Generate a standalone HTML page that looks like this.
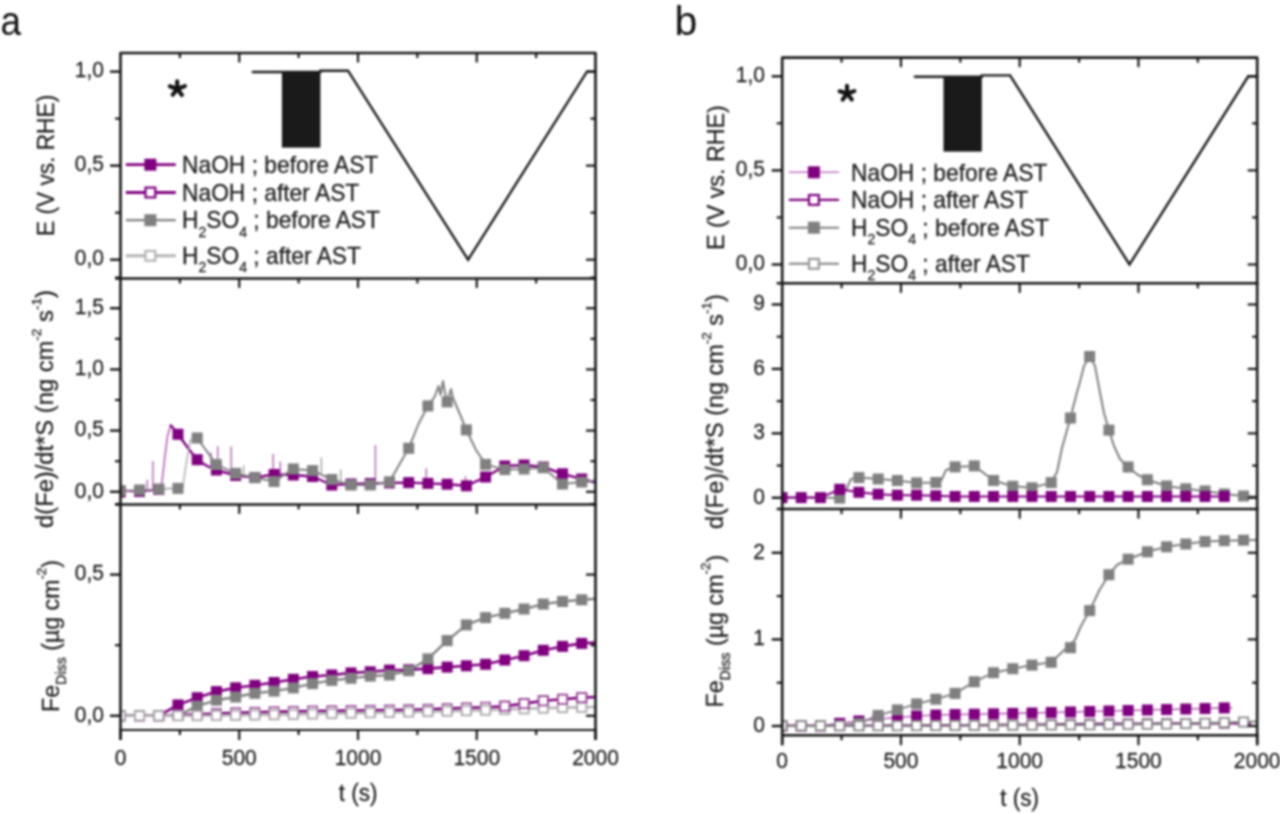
<!DOCTYPE html><html><head><meta charset="utf-8"><title>Fe dissolution</title>
<style>html,body{margin:0;padding:0;background:#fff;}svg{display:block;filter:blur(0.8px);}text{font-family:"Liberation Sans", sans-serif;stroke:#1c1c1c;stroke-width:0.25px;}</style></head><body>
<svg width="1280" height="814" viewBox="0 0 1280 814">
<rect width="1280" height="814" fill="#fff"/>
<defs>
<clipPath id="cA2"><rect x="120.5" y="278.4" width="475" height="226"/></clipPath>
<clipPath id="cA3"><rect x="120.5" y="504.4" width="475" height="225.6"/></clipPath>
<clipPath id="cB2"><rect x="782.2" y="283.3" width="475" height="225.8"/></clipPath>
<clipPath id="cB3"><rect x="782.2" y="509.1" width="475" height="226.1"/></clipPath>
</defs>
<text transform="translate(0.6,35.3) scale(0.9,1)" x="0" y="0" font-size="41" fill="#111" style="stroke:none">a</text>
<text x="674.5" y="35.3" font-size="41" text-anchor="start" fill="#111" style="stroke:none">b</text>
<rect x="281.9" y="71.6" width="38.5" height="76" fill="#1a1a1a"/>
<polyline points="252.8,72 320.4,72 320.4,70.7 348,70.7 468.1,259.7 587,71.6 595.5,71.6" fill="none" stroke="#1c1c1c" stroke-width="2.4" stroke-linejoin="miter" stroke-linecap="round" />
<rect x="943.5" y="76.3" width="38.3" height="75.3" fill="#1a1a1a"/>
<polyline points="914.9,76.7 981.8,76.7 981.8,75.4 1010.1,75.4 1129.5,264.5 1248.3,76.3 1257.2,76.3" fill="none" stroke="#1c1c1c" stroke-width="2.4" stroke-linejoin="miter" stroke-linecap="round" />
<line x1="177.3" y1="89" x2="177.2" y2="81.2" stroke="#111" stroke-width="4.1" stroke-linecap="round"/>
<line x1="177.3" y1="89" x2="169.8" y2="86.3" stroke="#111" stroke-width="4.1" stroke-linecap="round"/>
<line x1="177.3" y1="89" x2="184.9" y2="86.1" stroke="#111" stroke-width="4.1" stroke-linecap="round"/>
<line x1="177.3" y1="89" x2="172.7" y2="94.7" stroke="#111" stroke-width="4.1" stroke-linecap="round"/>
<line x1="177.3" y1="89" x2="181.9" y2="94.9" stroke="#111" stroke-width="4.1" stroke-linecap="round"/>
<line x1="847.2" y1="93.5" x2="847" y2="85.7" stroke="#111" stroke-width="4.1" stroke-linecap="round"/>
<line x1="847.2" y1="93.5" x2="839.6" y2="91.3" stroke="#111" stroke-width="4.1" stroke-linecap="round"/>
<line x1="847.2" y1="93.5" x2="854.3" y2="91.1" stroke="#111" stroke-width="4.1" stroke-linecap="round"/>
<line x1="847.2" y1="93.5" x2="842.7" y2="99.5" stroke="#111" stroke-width="4.1" stroke-linecap="round"/>
<line x1="847.2" y1="93.5" x2="851.8" y2="99.4" stroke="#111" stroke-width="4.1" stroke-linecap="round"/>
<line x1="125.8" y1="164.7" x2="175.8" y2="164.7" stroke="#800080" stroke-width="2.8" stroke-linecap="butt"/>
<rect x="144.4" y="158.7" width="12" height="12" fill="#800080"/>
<text transform="translate(182,172.9) scale(0.9661,1)" x="0" y="0" font-size="23.6" fill="#1c1c1c">NaOH ; before AST</text>
<line x1="125.8" y1="192.5" x2="175.8" y2="192.5" stroke="#800080" stroke-width="2.8" stroke-linecap="butt"/>
<rect x="145.5" y="187.6" width="9.8" height="9.8" fill="#fff" stroke="#800080" stroke-width="2.2"/>
<text transform="translate(182,200.7) scale(0.9661,1)" x="0" y="0" font-size="23.6" fill="#1c1c1c">NaOH ; after AST</text>
<line x1="125.8" y1="220.2" x2="175.8" y2="220.2" stroke="#808080" stroke-width="2.2" stroke-linecap="butt"/>
<rect x="144.4" y="214.2" width="12" height="12" fill="#808080"/>
<text transform="translate(182,228.4) scale(0.9661,1)" x="0" y="0" font-size="23.6" fill="#1c1c1c">H<tspan font-size="14.5" dy="8.3">2</tspan><tspan dy="-8.3">SO</tspan><tspan font-size="14.5" dy="8.3">4</tspan><tspan dy="-8.3"> ; before AST</tspan></text>
<line x1="125.8" y1="255.8" x2="175.8" y2="255.8" stroke="#b4b4b4" stroke-width="3.0" stroke-linecap="butt"/>
<rect x="145.5" y="250.9" width="9.8" height="9.8" fill="#fff" stroke="#b4b4b4" stroke-width="2.2"/>
<text transform="translate(182,264) scale(0.9661,1)" x="0" y="0" font-size="23.6" fill="#1c1c1c">H<tspan font-size="14.5" dy="8.3">2</tspan><tspan dy="-8.3">SO</tspan><tspan font-size="14.5" dy="8.3">4</tspan><tspan dy="-8.3"> ; after AST</tspan></text>
<line x1="788.8" y1="172.3" x2="839" y2="172.3" stroke="#c070c0" stroke-width="1.6" stroke-linecap="butt"/>
<rect x="807.9" y="166.3" width="12" height="12" fill="#800080"/>
<text transform="translate(851,180.5) scale(0.9661,1)" x="0" y="0" font-size="23.6" fill="#1c1c1c">NaOH ; before AST</text>
<line x1="788.8" y1="199.9" x2="839" y2="199.9" stroke="#800080" stroke-width="2.2" stroke-linecap="butt"/>
<rect x="809" y="195" width="9.8" height="9.8" fill="#fff" stroke="#800080" stroke-width="2.2"/>
<text transform="translate(851,208.1) scale(0.9661,1)" x="0" y="0" font-size="23.6" fill="#1c1c1c">NaOH ; after AST</text>
<line x1="788.8" y1="227.7" x2="839" y2="227.7" stroke="#808080" stroke-width="2.0" stroke-linecap="butt"/>
<rect x="807.9" y="221.7" width="12" height="12" fill="#808080"/>
<text transform="translate(851,235.9) scale(0.9661,1)" x="0" y="0" font-size="23.6" fill="#1c1c1c">H<tspan font-size="14.5" dy="8.3">2</tspan><tspan dy="-8.3">SO</tspan><tspan font-size="14.5" dy="8.3">4</tspan><tspan dy="-8.3"> ; before AST</tspan></text>
<line x1="788.8" y1="263.8" x2="839" y2="263.8" stroke="#808080" stroke-width="2.0" stroke-linecap="butt"/>
<rect x="809" y="258.9" width="9.8" height="9.8" fill="#fff" stroke="#999" stroke-width="2.2"/>
<text transform="translate(851,272) scale(0.9661,1)" x="0" y="0" font-size="23.6" fill="#1c1c1c">H<tspan font-size="14.5" dy="8.3">2</tspan><tspan dy="-8.3">SO</tspan><tspan font-size="14.5" dy="8.3">4</tspan><tspan dy="-8.3"> ; after AST</tspan></text>
<g clip-path="url(#cA2)">
<polyline points="120.5,490.5 139.53,491.5 159,489.5 161.3,488" fill="none" stroke="#800080" stroke-width="2.2" stroke-linejoin="round" stroke-linecap="round" />
<polyline points="161.3,488 164.5,460 167.5,436 170.7,425.4" fill="none" stroke="#b050b0" stroke-width="1.5" stroke-linejoin="round" stroke-linecap="round" />
<polyline points="170.7,425.4 173.5,428.5 177.98,434.3 188,448 197.2,459.7 207,466 216.43,470 235.66,475.5 254.88,477.5 274.11,474.5 293.33,475 312.56,476.5 331.79,485 351.01,484 370.24,483.5 389.46,482.9 408.69,482.6 427.92,483.4 447.14,484.2 466.37,485.8 485.59,477 504.82,466 524.05,465 543.27,467 562.5,473.8 581.72,479 595.5,482.5" fill="none" stroke="#800080" stroke-width="2.4" stroke-linejoin="round" stroke-linecap="round" />
<line x1="147.2" y1="490.71" x2="147.2" y2="479.8" stroke="#b060b0" stroke-width="1.4" stroke-linecap="butt"/>
<line x1="152.9" y1="490.13" x2="152.9" y2="461" stroke="#b060b0" stroke-width="1.4" stroke-linecap="butt"/>
<line x1="210.9" y1="467.65" x2="210.9" y2="452.6" stroke="#b060b0" stroke-width="1.4" stroke-linecap="butt"/>
<line x1="217.7" y1="470.36" x2="217.7" y2="446.3" stroke="#b060b0" stroke-width="1.4" stroke-linecap="butt"/>
<line x1="231.2" y1="474.23" x2="231.2" y2="446.5" stroke="#b060b0" stroke-width="1.4" stroke-linecap="butt"/>
<line x1="273.2" y1="474.64" x2="273.2" y2="453.9" stroke="#b060b0" stroke-width="1.4" stroke-linecap="butt"/>
<line x1="280.3" y1="474.66" x2="280.3" y2="461.5" stroke="#b060b0" stroke-width="1.4" stroke-linecap="butt"/>
<line x1="375.4" y1="483.34" x2="375.4" y2="445" stroke="#b060b0" stroke-width="1.4" stroke-linecap="butt"/>
<line x1="426.3" y1="483.33" x2="426.3" y2="468.2" stroke="#b060b0" stroke-width="1.4" stroke-linecap="butt"/>
<line x1="465.5" y1="485.73" x2="465.5" y2="476.2" stroke="#b060b0" stroke-width="1.4" stroke-linecap="butt"/>
<polyline points="120.5,490.6 139.53,490 158.75,489 177.98,488.4 182.7,487.5" fill="none" stroke="#a0a0a0" stroke-width="1.6" stroke-linejoin="round" stroke-linecap="round" />
<polyline points="182.7,487.5 186.5,462 190.5,440 197.2,438" fill="none" stroke="#a8a8a8" stroke-width="1.4" stroke-linejoin="round" stroke-linecap="round" />
<polyline points="197.2,438 216.43,464.6 235.66,473.4 254.88,477.7 274.11,481.5 293.33,468.9 312.56,470.6 331.79,479.5 351.01,485 370.24,484.9 389.46,481.8 408.69,448.3 418.5,424 427.92,405.9 434.5,397 438.5,386 440.5,395 443,381 445,393 447.14,401.9 451,389 453,398 459,412 466.37,429.9 476,450 485.59,464.4 504.82,469.6 524.05,469 543.27,467.7 562.5,484 581.72,482 595.5,480.5" fill="none" stroke="#808080" stroke-width="2.0" stroke-linejoin="round" stroke-linecap="round" />
<line x1="243.7" y1="475.2" x2="243.7" y2="465.5" stroke="#a0a0a0" stroke-width="1.4" stroke-linecap="butt"/>
<line x1="321.4" y1="474.69" x2="321.4" y2="457.4" stroke="#a0a0a0" stroke-width="1.4" stroke-linecap="butt"/>
<line x1="340.7" y1="482.05" x2="340.7" y2="469.6" stroke="#a0a0a0" stroke-width="1.4" stroke-linecap="butt"/>
<rect x="114.8" y="486.5" width="11" height="11" fill="#800080"/>
<rect x="134.03" y="486" width="11" height="11" fill="#800080"/>
<rect x="153.25" y="484" width="11" height="11" fill="#800080"/>
<rect x="172.48" y="428.8" width="11" height="11" fill="#800080"/>
<rect x="191.7" y="454.2" width="11" height="11" fill="#800080"/>
<rect x="210.93" y="464.5" width="11" height="11" fill="#800080"/>
<rect x="230.16" y="470" width="11" height="11" fill="#800080"/>
<rect x="249.38" y="472" width="11" height="11" fill="#800080"/>
<rect x="268.61" y="469" width="11" height="11" fill="#800080"/>
<rect x="287.83" y="469.5" width="11" height="11" fill="#800080"/>
<rect x="307.06" y="471" width="11" height="11" fill="#800080"/>
<rect x="326.29" y="479.5" width="11" height="11" fill="#800080"/>
<rect x="345.51" y="478.5" width="11" height="11" fill="#800080"/>
<rect x="364.74" y="478" width="11" height="11" fill="#800080"/>
<rect x="383.96" y="477.4" width="11" height="11" fill="#800080"/>
<rect x="403.19" y="477.1" width="11" height="11" fill="#800080"/>
<rect x="422.42" y="477.9" width="11" height="11" fill="#800080"/>
<rect x="441.64" y="478.7" width="11" height="11" fill="#800080"/>
<rect x="460.87" y="480.3" width="11" height="11" fill="#800080"/>
<rect x="480.09" y="471.5" width="11" height="11" fill="#800080"/>
<rect x="499.32" y="460.5" width="11" height="11" fill="#800080"/>
<rect x="518.55" y="459.5" width="11" height="11" fill="#800080"/>
<rect x="537.77" y="461.5" width="11" height="11" fill="#800080"/>
<rect x="557" y="468.3" width="11" height="11" fill="#800080"/>
<rect x="576.22" y="473.5" width="11" height="11" fill="#800080"/>
<rect x="114.8" y="485.1" width="11" height="11" fill="#808080"/>
<rect x="134.03" y="484.5" width="11" height="11" fill="#808080"/>
<rect x="153.25" y="483.5" width="11" height="11" fill="#808080"/>
<rect x="172.48" y="482.9" width="11" height="11" fill="#808080"/>
<rect x="191.7" y="432.5" width="11" height="11" fill="#808080"/>
<rect x="210.93" y="459.1" width="11" height="11" fill="#808080"/>
<rect x="230.16" y="467.9" width="11" height="11" fill="#808080"/>
<rect x="249.38" y="472.2" width="11" height="11" fill="#808080"/>
<rect x="268.61" y="476" width="11" height="11" fill="#808080"/>
<rect x="287.83" y="463.4" width="11" height="11" fill="#808080"/>
<rect x="307.06" y="465.1" width="11" height="11" fill="#808080"/>
<rect x="326.29" y="474" width="11" height="11" fill="#808080"/>
<rect x="345.51" y="479.5" width="11" height="11" fill="#808080"/>
<rect x="364.74" y="479.4" width="11" height="11" fill="#808080"/>
<rect x="383.96" y="476.3" width="11" height="11" fill="#808080"/>
<rect x="403.19" y="442.8" width="11" height="11" fill="#808080"/>
<rect x="422.42" y="400.4" width="11" height="11" fill="#808080"/>
<rect x="441.64" y="396.4" width="11" height="11" fill="#808080"/>
<rect x="460.87" y="424.4" width="11" height="11" fill="#808080"/>
<rect x="480.09" y="458.9" width="11" height="11" fill="#808080"/>
<rect x="499.32" y="464.1" width="11" height="11" fill="#808080"/>
<rect x="518.55" y="463.5" width="11" height="11" fill="#808080"/>
<rect x="537.77" y="462.2" width="11" height="11" fill="#808080"/>
<rect x="557" y="478.5" width="11" height="11" fill="#808080"/>
<rect x="576.22" y="476.5" width="11" height="11" fill="#808080"/>
</g>
<g clip-path="url(#cA3)">
<polyline points="120.3,715.8 139.53,715.8 158.75,715.8 177.98,704.9 197.2,697.7 216.43,691.6 235.66,687.8 254.88,685.3 274.11,682.5 293.33,679.3 312.56,676.5 331.79,675 351.01,672.9 370.24,671.8 389.46,670.1 408.69,669.7 427.92,668.6 447.14,667.1 466.37,665.8 485.59,664.3 504.82,660 524.05,655.7 543.27,650.3 562.5,646.4 581.72,643.4 595.5,642.5" fill="none" stroke="#800080" stroke-width="2.6" stroke-linejoin="round" stroke-linecap="round" />
<polyline points="120.5,715.7 120.3,715.6 139.53,715.6 158.75,715.5 177.98,715 197.2,714.2 216.43,713.5 235.66,712.8 254.88,712.3 274.11,711.8 293.33,711.4 312.56,711 331.79,710.8 351.01,710.5 370.24,710.3 389.46,710 408.69,709.7 427.92,709.3 447.14,708.6 466.37,707.8 485.59,707.2 504.82,706.2 524.05,703.6 543.27,700.8 562.5,699.3 581.72,697.6 595.5,697" fill="none" stroke="#800080" stroke-width="2.6" stroke-linejoin="round" stroke-linecap="round" />
<polyline points="120.3,715.8 139.53,715.8 158.75,715.8 177.98,715.5 197.2,706.1 216.43,700.2 235.66,697 254.88,693.3 274.11,691.1 293.33,687.9 312.56,683.6 331.79,680.4 351.01,678.3 370.24,676.1 389.46,675 408.69,670.7 427.92,658.9 447.14,640.6 466.37,624.9 485.59,617.6 504.82,613.3 524.05,609 543.27,604.1 562.5,601.5 581.72,599.8 595.5,598.7" fill="none" stroke="#808080" stroke-width="2.4" stroke-linejoin="round" stroke-linecap="round" />
<polyline points="120.5,715.8 120.3,715.8 139.53,715.8 158.75,715.8 177.98,715.8 197.2,715.7 216.43,715.5 235.66,715.3 254.88,715 274.11,714.7 293.33,714.4 312.56,714 331.79,713.6 351.01,713.2 370.24,712.8 389.46,712.4 408.69,712 427.92,711.6 447.14,711.2 466.37,710.7 485.59,710.2 504.82,709.4 524.05,708.8 543.27,708.2 562.5,707.6 581.72,707.3 595.5,707" fill="none" stroke="#b4b4b4" stroke-width="2.6" stroke-linejoin="round" stroke-linecap="round" />
<rect x="114.8" y="710.3" width="11" height="11" fill="#800080"/>
<rect x="134.03" y="710.3" width="11" height="11" fill="#800080"/>
<rect x="153.25" y="710.3" width="11" height="11" fill="#800080"/>
<rect x="172.48" y="699.4" width="11" height="11" fill="#800080"/>
<rect x="191.7" y="692.2" width="11" height="11" fill="#800080"/>
<rect x="210.93" y="686.1" width="11" height="11" fill="#800080"/>
<rect x="230.16" y="682.3" width="11" height="11" fill="#800080"/>
<rect x="249.38" y="679.8" width="11" height="11" fill="#800080"/>
<rect x="268.61" y="677" width="11" height="11" fill="#800080"/>
<rect x="287.83" y="673.8" width="11" height="11" fill="#800080"/>
<rect x="307.06" y="671" width="11" height="11" fill="#800080"/>
<rect x="326.29" y="669.5" width="11" height="11" fill="#800080"/>
<rect x="345.51" y="667.4" width="11" height="11" fill="#800080"/>
<rect x="364.74" y="666.3" width="11" height="11" fill="#800080"/>
<rect x="383.96" y="664.6" width="11" height="11" fill="#800080"/>
<rect x="403.19" y="664.2" width="11" height="11" fill="#800080"/>
<rect x="422.42" y="663.1" width="11" height="11" fill="#800080"/>
<rect x="441.64" y="661.6" width="11" height="11" fill="#800080"/>
<rect x="460.87" y="660.3" width="11" height="11" fill="#800080"/>
<rect x="480.09" y="658.8" width="11" height="11" fill="#800080"/>
<rect x="499.32" y="654.5" width="11" height="11" fill="#800080"/>
<rect x="518.55" y="650.2" width="11" height="11" fill="#800080"/>
<rect x="537.77" y="644.8" width="11" height="11" fill="#800080"/>
<rect x="557" y="640.9" width="11" height="11" fill="#800080"/>
<rect x="576.22" y="637.9" width="11" height="11" fill="#800080"/>
<rect x="115.7" y="711" width="9.2" height="9.2" fill="#fff" stroke="#a05aa0" stroke-width="1.8"/>
<rect x="134.93" y="711" width="9.2" height="9.2" fill="#fff" stroke="#a05aa0" stroke-width="1.8"/>
<rect x="154.15" y="710.9" width="9.2" height="9.2" fill="#fff" stroke="#a05aa0" stroke-width="1.8"/>
<rect x="173.38" y="710.4" width="9.2" height="9.2" fill="#fff" stroke="#a05aa0" stroke-width="1.8"/>
<rect x="192.6" y="709.6" width="9.2" height="9.2" fill="#fff" stroke="#a05aa0" stroke-width="1.8"/>
<rect x="211.83" y="708.9" width="9.2" height="9.2" fill="#fff" stroke="#a05aa0" stroke-width="1.8"/>
<rect x="231.06" y="708.2" width="9.2" height="9.2" fill="#fff" stroke="#a05aa0" stroke-width="1.8"/>
<rect x="250.28" y="707.7" width="9.2" height="9.2" fill="#fff" stroke="#a05aa0" stroke-width="1.8"/>
<rect x="269.51" y="707.2" width="9.2" height="9.2" fill="#fff" stroke="#a05aa0" stroke-width="1.8"/>
<rect x="288.73" y="706.8" width="9.2" height="9.2" fill="#fff" stroke="#a05aa0" stroke-width="1.8"/>
<rect x="307.96" y="706.4" width="9.2" height="9.2" fill="#fff" stroke="#a05aa0" stroke-width="1.8"/>
<rect x="327.19" y="706.2" width="9.2" height="9.2" fill="#fff" stroke="#a05aa0" stroke-width="1.8"/>
<rect x="346.41" y="705.9" width="9.2" height="9.2" fill="#fff" stroke="#a05aa0" stroke-width="1.8"/>
<rect x="365.64" y="705.7" width="9.2" height="9.2" fill="#fff" stroke="#a05aa0" stroke-width="1.8"/>
<rect x="384.86" y="705.4" width="9.2" height="9.2" fill="#fff" stroke="#a05aa0" stroke-width="1.8"/>
<rect x="404.09" y="705.1" width="9.2" height="9.2" fill="#fff" stroke="#a05aa0" stroke-width="1.8"/>
<rect x="423.32" y="704.7" width="9.2" height="9.2" fill="#fff" stroke="#a05aa0" stroke-width="1.8"/>
<rect x="442.54" y="704" width="9.2" height="9.2" fill="#fff" stroke="#a05aa0" stroke-width="1.8"/>
<rect x="461.77" y="703.2" width="9.2" height="9.2" fill="#fff" stroke="#a05aa0" stroke-width="1.8"/>
<rect x="480.99" y="702.6" width="9.2" height="9.2" fill="#fff" stroke="#a05aa0" stroke-width="1.8"/>
<rect x="500.22" y="701.6" width="9.2" height="9.2" fill="#fff" stroke="#a05aa0" stroke-width="1.8"/>
<rect x="519.45" y="699" width="9.2" height="9.2" fill="#fff" stroke="#a05aa0" stroke-width="1.8"/>
<rect x="538.67" y="696.2" width="9.2" height="9.2" fill="#fff" stroke="#a05aa0" stroke-width="1.8"/>
<rect x="557.9" y="694.7" width="9.2" height="9.2" fill="#fff" stroke="#a05aa0" stroke-width="1.8"/>
<rect x="577.12" y="693" width="9.2" height="9.2" fill="#fff" stroke="#a05aa0" stroke-width="1.8"/>
<rect x="114.8" y="710.3" width="11" height="11" fill="#808080"/>
<rect x="134.03" y="710.3" width="11" height="11" fill="#808080"/>
<rect x="153.25" y="710.3" width="11" height="11" fill="#808080"/>
<rect x="172.48" y="710" width="11" height="11" fill="#808080"/>
<rect x="191.7" y="700.6" width="11" height="11" fill="#808080"/>
<rect x="210.93" y="694.7" width="11" height="11" fill="#808080"/>
<rect x="230.16" y="691.5" width="11" height="11" fill="#808080"/>
<rect x="249.38" y="687.8" width="11" height="11" fill="#808080"/>
<rect x="268.61" y="685.6" width="11" height="11" fill="#808080"/>
<rect x="287.83" y="682.4" width="11" height="11" fill="#808080"/>
<rect x="307.06" y="678.1" width="11" height="11" fill="#808080"/>
<rect x="326.29" y="674.9" width="11" height="11" fill="#808080"/>
<rect x="345.51" y="672.8" width="11" height="11" fill="#808080"/>
<rect x="364.74" y="670.6" width="11" height="11" fill="#808080"/>
<rect x="383.96" y="669.5" width="11" height="11" fill="#808080"/>
<rect x="403.19" y="665.2" width="11" height="11" fill="#808080"/>
<rect x="422.42" y="653.4" width="11" height="11" fill="#808080"/>
<rect x="441.64" y="635.1" width="11" height="11" fill="#808080"/>
<rect x="460.87" y="619.4" width="11" height="11" fill="#808080"/>
<rect x="480.09" y="612.1" width="11" height="11" fill="#808080"/>
<rect x="499.32" y="607.8" width="11" height="11" fill="#808080"/>
<rect x="518.55" y="603.5" width="11" height="11" fill="#808080"/>
<rect x="537.77" y="598.6" width="11" height="11" fill="#808080"/>
<rect x="557" y="596" width="11" height="11" fill="#808080"/>
<rect x="576.22" y="594.3" width="11" height="11" fill="#808080"/>
<rect x="115.7" y="711.2" width="9.2" height="9.2" fill="#fff" stroke="#aca6ac" stroke-width="1.8"/>
<rect x="134.93" y="711.2" width="9.2" height="9.2" fill="#fff" stroke="#aca6ac" stroke-width="1.8"/>
<rect x="154.15" y="711.2" width="9.2" height="9.2" fill="#fff" stroke="#aca6ac" stroke-width="1.8"/>
<rect x="173.38" y="711.2" width="9.2" height="9.2" fill="#fff" stroke="#aca6ac" stroke-width="1.8"/>
<rect x="192.6" y="711.1" width="9.2" height="9.2" fill="#fff" stroke="#aca6ac" stroke-width="1.8"/>
<rect x="211.83" y="710.9" width="9.2" height="9.2" fill="#fff" stroke="#aca6ac" stroke-width="1.8"/>
<rect x="231.06" y="710.7" width="9.2" height="9.2" fill="#fff" stroke="#aca6ac" stroke-width="1.8"/>
<rect x="250.28" y="710.4" width="9.2" height="9.2" fill="#fff" stroke="#aca6ac" stroke-width="1.8"/>
<rect x="269.51" y="710.1" width="9.2" height="9.2" fill="#fff" stroke="#aca6ac" stroke-width="1.8"/>
<rect x="288.73" y="709.8" width="9.2" height="9.2" fill="#fff" stroke="#aca6ac" stroke-width="1.8"/>
<rect x="307.96" y="709.4" width="9.2" height="9.2" fill="#fff" stroke="#aca6ac" stroke-width="1.8"/>
<rect x="327.19" y="709" width="9.2" height="9.2" fill="#fff" stroke="#aca6ac" stroke-width="1.8"/>
<rect x="346.41" y="708.6" width="9.2" height="9.2" fill="#fff" stroke="#aca6ac" stroke-width="1.8"/>
<rect x="365.64" y="708.2" width="9.2" height="9.2" fill="#fff" stroke="#aca6ac" stroke-width="1.8"/>
<rect x="384.86" y="707.8" width="9.2" height="9.2" fill="#fff" stroke="#aca6ac" stroke-width="1.8"/>
<rect x="404.09" y="707.4" width="9.2" height="9.2" fill="#fff" stroke="#aca6ac" stroke-width="1.8"/>
<rect x="423.32" y="707" width="9.2" height="9.2" fill="#fff" stroke="#aca6ac" stroke-width="1.8"/>
<rect x="442.54" y="706.6" width="9.2" height="9.2" fill="#fff" stroke="#aca6ac" stroke-width="1.8"/>
<rect x="461.77" y="706.1" width="9.2" height="9.2" fill="#fff" stroke="#aca6ac" stroke-width="1.8"/>
<rect x="480.99" y="705.6" width="9.2" height="9.2" fill="#fff" stroke="#aca6ac" stroke-width="1.8"/>
<rect x="500.22" y="704.8" width="9.2" height="9.2" fill="#fff" stroke="#aca6ac" stroke-width="1.8"/>
<rect x="519.45" y="704.2" width="9.2" height="9.2" fill="#fff" stroke="#aca6ac" stroke-width="1.8"/>
<rect x="538.67" y="703.6" width="9.2" height="9.2" fill="#fff" stroke="#aca6ac" stroke-width="1.8"/>
<rect x="557.9" y="703" width="9.2" height="9.2" fill="#fff" stroke="#aca6ac" stroke-width="1.8"/>
<rect x="577.12" y="702.7" width="9.2" height="9.2" fill="#fff" stroke="#aca6ac" stroke-width="1.8"/>
<rect x="500.22" y="701.6" width="9.2" height="9.2" fill="#fff" stroke="#9a4a9a" stroke-width="1.8"/>
<rect x="519.45" y="699" width="9.2" height="9.2" fill="#fff" stroke="#9a4a9a" stroke-width="1.8"/>
<rect x="538.67" y="696.2" width="9.2" height="9.2" fill="#fff" stroke="#9a4a9a" stroke-width="1.8"/>
<rect x="557.9" y="694.7" width="9.2" height="9.2" fill="#fff" stroke="#9a4a9a" stroke-width="1.8"/>
<rect x="577.12" y="693" width="9.2" height="9.2" fill="#fff" stroke="#9a4a9a" stroke-width="1.8"/>
</g>
<g clip-path="url(#cB2)">
<polyline points="782,497.6 782.2,497.7 801.23,497.6 820.46,497.8 839.69,498.1 846,490 851,479 858.92,477.6 878.15,479 897.38,480.5 916.61,482.9 935.84,482.5 941.5,480 946,470 955.07,466.9 974.3,465.9 993.53,480.5 1012.76,486.3 1031.99,487.8 1051.22,482.6 1057,472 1062,448 1070.45,418 1076,396 1080.6,379.6 1084,366 1089.68,356.5 1095,366 1099.5,390 1104,413 1108.91,430.1 1114,446 1120,459 1128.14,467 1138,475 1147.37,479.7 1166.6,486 1185.83,488.8 1205.06,491 1224.29,494 1243.52,496 1257.2,496.5" fill="none" stroke="#808080" stroke-width="2.0" stroke-linejoin="round" stroke-linecap="round" />
<rect x="834.19" y="492.6" width="11" height="11" fill="#808080"/>
<rect x="853.42" y="472.1" width="11" height="11" fill="#808080"/>
<rect x="872.65" y="473.5" width="11" height="11" fill="#808080"/>
<rect x="891.88" y="475" width="11" height="11" fill="#808080"/>
<rect x="911.11" y="477.4" width="11" height="11" fill="#808080"/>
<rect x="930.34" y="477" width="11" height="11" fill="#808080"/>
<rect x="949.57" y="461.4" width="11" height="11" fill="#808080"/>
<rect x="968.8" y="460.4" width="11" height="11" fill="#808080"/>
<rect x="988.03" y="475" width="11" height="11" fill="#808080"/>
<rect x="1007.26" y="480.8" width="11" height="11" fill="#808080"/>
<rect x="1026.49" y="482.3" width="11" height="11" fill="#808080"/>
<rect x="1045.72" y="477.1" width="11" height="11" fill="#808080"/>
<rect x="1064.95" y="412.5" width="11" height="11" fill="#808080"/>
<rect x="1084.18" y="351" width="11" height="11" fill="#808080"/>
<rect x="1103.41" y="424.6" width="11" height="11" fill="#808080"/>
<rect x="1122.64" y="461.5" width="11" height="11" fill="#808080"/>
<rect x="1141.87" y="474.2" width="11" height="11" fill="#808080"/>
<rect x="1161.1" y="480.5" width="11" height="11" fill="#808080"/>
<rect x="1180.33" y="483.3" width="11" height="11" fill="#808080"/>
<rect x="1199.56" y="485.5" width="11" height="11" fill="#808080"/>
<rect x="1218.79" y="488.5" width="11" height="11" fill="#808080"/>
<rect x="1238.02" y="490.5" width="11" height="11" fill="#808080"/>
<polyline points="782.2,497.6 782,497.6 801.23,497.6 820.46,497.6 839.69,489.3 858.92,492.3 878.15,494.2 897.38,495.2 916.61,495.2 935.84,495.8 955.07,496.5 974.3,496.5 993.53,496.5 1012.76,496.5 1031.99,496.5 1051.22,496.5 1070.45,496.5 1089.68,496.5 1108.91,496.5 1128.14,496.5 1147.37,496.5 1166.6,496.5 1185.83,496.5 1205.06,496.5 1224.29,496.5" fill="none" stroke="#800080" stroke-width="2.0" stroke-linejoin="round" stroke-linecap="round" />
<rect x="776.5" y="492.1" width="11" height="11" fill="#800080"/>
<rect x="795.73" y="492.1" width="11" height="11" fill="#800080"/>
<rect x="814.96" y="492.1" width="11" height="11" fill="#800080"/>
<rect x="834.19" y="483.8" width="11" height="11" fill="#800080"/>
<rect x="853.42" y="486.8" width="11" height="11" fill="#800080"/>
<rect x="872.65" y="488.7" width="11" height="11" fill="#800080"/>
<rect x="891.88" y="489.7" width="11" height="11" fill="#800080"/>
<rect x="911.11" y="489.7" width="11" height="11" fill="#800080"/>
<rect x="930.34" y="490.3" width="11" height="11" fill="#800080"/>
<rect x="949.57" y="491" width="11" height="11" fill="#800080"/>
<rect x="968.8" y="491" width="11" height="11" fill="#800080"/>
<rect x="988.03" y="491" width="11" height="11" fill="#800080"/>
<rect x="1007.26" y="491" width="11" height="11" fill="#800080"/>
<rect x="1026.49" y="491" width="11" height="11" fill="#800080"/>
<rect x="1045.72" y="491" width="11" height="11" fill="#800080"/>
<rect x="1064.95" y="491" width="11" height="11" fill="#800080"/>
<rect x="1084.18" y="491" width="11" height="11" fill="#800080"/>
<rect x="1103.41" y="491" width="11" height="11" fill="#800080"/>
<rect x="1122.64" y="491" width="11" height="11" fill="#800080"/>
<rect x="1141.87" y="491" width="11" height="11" fill="#800080"/>
<rect x="1161.1" y="491" width="11" height="11" fill="#800080"/>
<rect x="1180.33" y="491" width="11" height="11" fill="#800080"/>
<rect x="1199.56" y="491" width="11" height="11" fill="#800080"/>
<rect x="1218.79" y="491" width="11" height="11" fill="#800080"/>
</g>
<g clip-path="url(#cB3)">
<polyline points="782,726 801.23,726 820.46,726 839.69,723.3 858.92,721 878.15,719 897.38,717.5 916.61,716 935.84,715 955.07,714.5 974.3,714.2 993.53,713.8 1012.76,713.4 1031.99,713 1051.22,712.5 1070.45,712 1089.68,711.5 1108.91,711 1128.14,710.5 1147.37,710 1166.6,709.5 1185.83,709 1205.06,708.5 1224.29,707.9 1231.6,707.8" fill="none" stroke="#b060b0" stroke-width="1.6" stroke-linejoin="round" stroke-linecap="round" />
<polyline points="782.2,725.8 782,725.8 801.23,725.8 820.46,725.8 839.69,725.8 858.92,725.7 878.15,725.6 897.38,725.5 916.61,725.4 935.84,725.3 955.07,725.2 974.3,725.1 993.53,725 1012.76,724.8 1031.99,724.6 1051.22,724.4 1070.45,724.2 1089.68,724 1108.91,723.8 1128.14,723.7 1147.37,723.6 1166.6,723.5 1185.83,723.5 1205.06,723.5 1224.29,723.4 1250,723.5" fill="none" stroke="#800080" stroke-width="2.4" stroke-linejoin="round" stroke-linecap="round" />
<polyline points="782,726 801.23,726 820.46,726 839.69,725.5 858.92,723.5 878.15,715.4 897.38,709.9 916.61,703.9 935.84,699.2 955.07,693.4 974.3,681.8 993.53,672.7 1012.76,668.7 1031.99,665.1 1051.22,662.3 1075,640 1080.5,627 1089.68,610.6 1099.5,590 1108.91,574.7 1117,565 1128.14,559.2 1147.37,551.8 1166.6,546.8 1185.83,544 1205.06,541.6 1224.29,540.7 1243.52,540.2 1257.2,540" fill="none" stroke="#808080" stroke-width="2.0" stroke-linejoin="round" stroke-linecap="round" />
<polyline points="782.2,725.8 782,725.8 801.23,725.8 820.46,725.8 839.69,725.8 858.92,725.8 878.15,725.8 897.38,725.8 916.61,725.7 935.84,725.6 955.07,725.5 974.3,725.4 993.53,725.3 1012.76,725.2 1031.99,725.1 1051.22,725 1070.45,724.9 1089.68,724.8 1108.91,724.6 1128.14,724.4 1147.37,724.2 1166.6,724 1185.83,723.6 1205.06,723.2 1224.29,722.6 1243.52,722 1257.2,721.5" fill="none" stroke="#808080" stroke-width="2.2" stroke-linejoin="round" stroke-linecap="round" />
<rect x="776.5" y="720.5" width="11" height="11" fill="#800080"/>
<rect x="795.73" y="720.5" width="11" height="11" fill="#800080"/>
<rect x="814.96" y="720.5" width="11" height="11" fill="#800080"/>
<rect x="834.19" y="717.8" width="11" height="11" fill="#800080"/>
<rect x="853.42" y="715.5" width="11" height="11" fill="#800080"/>
<rect x="872.65" y="713.5" width="11" height="11" fill="#800080"/>
<rect x="891.88" y="712" width="11" height="11" fill="#800080"/>
<rect x="911.11" y="710.5" width="11" height="11" fill="#800080"/>
<rect x="930.34" y="709.5" width="11" height="11" fill="#800080"/>
<rect x="949.57" y="709" width="11" height="11" fill="#800080"/>
<rect x="968.8" y="708.7" width="11" height="11" fill="#800080"/>
<rect x="988.03" y="708.3" width="11" height="11" fill="#800080"/>
<rect x="1007.26" y="707.9" width="11" height="11" fill="#800080"/>
<rect x="1026.49" y="707.5" width="11" height="11" fill="#800080"/>
<rect x="1045.72" y="707" width="11" height="11" fill="#800080"/>
<rect x="1064.95" y="706.5" width="11" height="11" fill="#800080"/>
<rect x="1084.18" y="706" width="11" height="11" fill="#800080"/>
<rect x="1103.41" y="705.5" width="11" height="11" fill="#800080"/>
<rect x="1122.64" y="705" width="11" height="11" fill="#800080"/>
<rect x="1141.87" y="704.5" width="11" height="11" fill="#800080"/>
<rect x="1161.1" y="704" width="11" height="11" fill="#800080"/>
<rect x="1180.33" y="703.5" width="11" height="11" fill="#800080"/>
<rect x="1199.56" y="703" width="11" height="11" fill="#800080"/>
<rect x="1218.79" y="702.4" width="11" height="11" fill="#800080"/>
<rect x="777.4" y="721.2" width="9.2" height="9.2" fill="#fff" stroke="#9a5a9a" stroke-width="1.8"/>
<rect x="796.63" y="721.2" width="9.2" height="9.2" fill="#fff" stroke="#9a5a9a" stroke-width="1.8"/>
<rect x="815.86" y="721.2" width="9.2" height="9.2" fill="#fff" stroke="#9a5a9a" stroke-width="1.8"/>
<rect x="835.09" y="721.2" width="9.2" height="9.2" fill="#fff" stroke="#9a5a9a" stroke-width="1.8"/>
<rect x="854.32" y="721.1" width="9.2" height="9.2" fill="#fff" stroke="#9a5a9a" stroke-width="1.8"/>
<rect x="873.55" y="721" width="9.2" height="9.2" fill="#fff" stroke="#9a5a9a" stroke-width="1.8"/>
<rect x="892.78" y="720.9" width="9.2" height="9.2" fill="#fff" stroke="#9a5a9a" stroke-width="1.8"/>
<rect x="912.01" y="720.8" width="9.2" height="9.2" fill="#fff" stroke="#9a5a9a" stroke-width="1.8"/>
<rect x="931.24" y="720.7" width="9.2" height="9.2" fill="#fff" stroke="#9a5a9a" stroke-width="1.8"/>
<rect x="950.47" y="720.6" width="9.2" height="9.2" fill="#fff" stroke="#9a5a9a" stroke-width="1.8"/>
<rect x="969.7" y="720.5" width="9.2" height="9.2" fill="#fff" stroke="#9a5a9a" stroke-width="1.8"/>
<rect x="988.93" y="720.4" width="9.2" height="9.2" fill="#fff" stroke="#9a5a9a" stroke-width="1.8"/>
<rect x="1008.16" y="720.2" width="9.2" height="9.2" fill="#fff" stroke="#9a5a9a" stroke-width="1.8"/>
<rect x="1027.39" y="720" width="9.2" height="9.2" fill="#fff" stroke="#9a5a9a" stroke-width="1.8"/>
<rect x="1046.62" y="719.8" width="9.2" height="9.2" fill="#fff" stroke="#9a5a9a" stroke-width="1.8"/>
<rect x="1065.85" y="719.6" width="9.2" height="9.2" fill="#fff" stroke="#9a5a9a" stroke-width="1.8"/>
<rect x="1085.08" y="719.4" width="9.2" height="9.2" fill="#fff" stroke="#9a5a9a" stroke-width="1.8"/>
<rect x="1104.31" y="719.2" width="9.2" height="9.2" fill="#fff" stroke="#9a5a9a" stroke-width="1.8"/>
<rect x="1123.54" y="719.1" width="9.2" height="9.2" fill="#fff" stroke="#9a5a9a" stroke-width="1.8"/>
<rect x="1142.77" y="719" width="9.2" height="9.2" fill="#fff" stroke="#9a5a9a" stroke-width="1.8"/>
<rect x="1162" y="718.9" width="9.2" height="9.2" fill="#fff" stroke="#9a5a9a" stroke-width="1.8"/>
<rect x="1181.23" y="718.9" width="9.2" height="9.2" fill="#fff" stroke="#9a5a9a" stroke-width="1.8"/>
<rect x="1200.46" y="718.9" width="9.2" height="9.2" fill="#fff" stroke="#9a5a9a" stroke-width="1.8"/>
<rect x="1219.69" y="718.8" width="9.2" height="9.2" fill="#fff" stroke="#9a5a9a" stroke-width="1.8"/>
<rect x="853.42" y="718" width="11" height="11" fill="#808080"/>
<rect x="872.65" y="709.9" width="11" height="11" fill="#808080"/>
<rect x="891.88" y="704.4" width="11" height="11" fill="#808080"/>
<rect x="911.11" y="698.4" width="11" height="11" fill="#808080"/>
<rect x="930.34" y="693.7" width="11" height="11" fill="#808080"/>
<rect x="949.57" y="687.9" width="11" height="11" fill="#808080"/>
<rect x="968.8" y="676.3" width="11" height="11" fill="#808080"/>
<rect x="988.03" y="667.2" width="11" height="11" fill="#808080"/>
<rect x="1007.26" y="663.2" width="11" height="11" fill="#808080"/>
<rect x="1026.49" y="659.6" width="11" height="11" fill="#808080"/>
<rect x="1045.72" y="656.8" width="11" height="11" fill="#808080"/>
<rect x="1064.95" y="642.2" width="11" height="11" fill="#808080"/>
<rect x="1084.18" y="605.1" width="11" height="11" fill="#808080"/>
<rect x="1103.41" y="569.2" width="11" height="11" fill="#808080"/>
<rect x="1122.64" y="553.7" width="11" height="11" fill="#808080"/>
<rect x="1141.87" y="546.3" width="11" height="11" fill="#808080"/>
<rect x="1161.1" y="541.3" width="11" height="11" fill="#808080"/>
<rect x="1180.33" y="538.5" width="11" height="11" fill="#808080"/>
<rect x="1199.56" y="536.1" width="11" height="11" fill="#808080"/>
<rect x="1218.79" y="535.2" width="11" height="11" fill="#808080"/>
<rect x="1238.02" y="534.7" width="11" height="11" fill="#808080"/>
<rect x="777.4" y="721.2" width="9.2" height="9.2" fill="#fff" stroke="#8c8c8c" stroke-width="1.8"/>
<rect x="796.63" y="721.2" width="9.2" height="9.2" fill="#fff" stroke="#8c8c8c" stroke-width="1.8"/>
<rect x="815.86" y="721.2" width="9.2" height="9.2" fill="#fff" stroke="#8c8c8c" stroke-width="1.8"/>
<rect x="835.09" y="721.2" width="9.2" height="9.2" fill="#fff" stroke="#8c8c8c" stroke-width="1.8"/>
<rect x="854.32" y="721.2" width="9.2" height="9.2" fill="#fff" stroke="#8c8c8c" stroke-width="1.8"/>
<rect x="873.55" y="721.2" width="9.2" height="9.2" fill="#fff" stroke="#8c8c8c" stroke-width="1.8"/>
<rect x="892.78" y="721.2" width="9.2" height="9.2" fill="#fff" stroke="#8c8c8c" stroke-width="1.8"/>
<rect x="912.01" y="721.1" width="9.2" height="9.2" fill="#fff" stroke="#8c8c8c" stroke-width="1.8"/>
<rect x="931.24" y="721" width="9.2" height="9.2" fill="#fff" stroke="#8c8c8c" stroke-width="1.8"/>
<rect x="950.47" y="720.9" width="9.2" height="9.2" fill="#fff" stroke="#8c8c8c" stroke-width="1.8"/>
<rect x="969.7" y="720.8" width="9.2" height="9.2" fill="#fff" stroke="#8c8c8c" stroke-width="1.8"/>
<rect x="988.93" y="720.7" width="9.2" height="9.2" fill="#fff" stroke="#8c8c8c" stroke-width="1.8"/>
<rect x="1008.16" y="720.6" width="9.2" height="9.2" fill="#fff" stroke="#8c8c8c" stroke-width="1.8"/>
<rect x="1027.39" y="720.5" width="9.2" height="9.2" fill="#fff" stroke="#8c8c8c" stroke-width="1.8"/>
<rect x="1046.62" y="720.4" width="9.2" height="9.2" fill="#fff" stroke="#8c8c8c" stroke-width="1.8"/>
<rect x="1065.85" y="720.3" width="9.2" height="9.2" fill="#fff" stroke="#8c8c8c" stroke-width="1.8"/>
<rect x="1085.08" y="720.2" width="9.2" height="9.2" fill="#fff" stroke="#8c8c8c" stroke-width="1.8"/>
<rect x="1104.31" y="720" width="9.2" height="9.2" fill="#fff" stroke="#8c8c8c" stroke-width="1.8"/>
<rect x="1123.54" y="719.8" width="9.2" height="9.2" fill="#fff" stroke="#8c8c8c" stroke-width="1.8"/>
<rect x="1142.77" y="719.6" width="9.2" height="9.2" fill="#fff" stroke="#8c8c8c" stroke-width="1.8"/>
<rect x="1162" y="719.4" width="9.2" height="9.2" fill="#fff" stroke="#8c8c8c" stroke-width="1.8"/>
<rect x="1181.23" y="719" width="9.2" height="9.2" fill="#fff" stroke="#8c8c8c" stroke-width="1.8"/>
<rect x="1200.46" y="718.6" width="9.2" height="9.2" fill="#fff" stroke="#8c8c8c" stroke-width="1.8"/>
<rect x="1219.69" y="718" width="9.2" height="9.2" fill="#fff" stroke="#8c8c8c" stroke-width="1.8"/>
<rect x="1238.92" y="717.4" width="9.2" height="9.2" fill="#fff" stroke="#8c8c8c" stroke-width="1.8"/>
</g>
<line x1="179.88" y1="53" x2="179.88" y2="58" stroke="#161616" stroke-width="2.2" stroke-linecap="butt"/>
<line x1="239.25" y1="53" x2="239.25" y2="62.5" stroke="#161616" stroke-width="2.2" stroke-linecap="butt"/>
<line x1="298.62" y1="53" x2="298.62" y2="58" stroke="#161616" stroke-width="2.2" stroke-linecap="butt"/>
<line x1="358" y1="53" x2="358" y2="62.5" stroke="#161616" stroke-width="2.2" stroke-linecap="butt"/>
<line x1="417.38" y1="53" x2="417.38" y2="58" stroke="#161616" stroke-width="2.2" stroke-linecap="butt"/>
<line x1="476.75" y1="53" x2="476.75" y2="62.5" stroke="#161616" stroke-width="2.2" stroke-linecap="butt"/>
<line x1="536.12" y1="53" x2="536.12" y2="58" stroke="#161616" stroke-width="2.2" stroke-linecap="butt"/>
<line x1="179.88" y1="278.4" x2="179.88" y2="283.4" stroke="#161616" stroke-width="2.2" stroke-linecap="butt"/>
<line x1="239.25" y1="278.4" x2="239.25" y2="287.9" stroke="#161616" stroke-width="2.2" stroke-linecap="butt"/>
<line x1="298.62" y1="278.4" x2="298.62" y2="283.4" stroke="#161616" stroke-width="2.2" stroke-linecap="butt"/>
<line x1="358" y1="278.4" x2="358" y2="287.9" stroke="#161616" stroke-width="2.2" stroke-linecap="butt"/>
<line x1="417.38" y1="278.4" x2="417.38" y2="283.4" stroke="#161616" stroke-width="2.2" stroke-linecap="butt"/>
<line x1="476.75" y1="278.4" x2="476.75" y2="287.9" stroke="#161616" stroke-width="2.2" stroke-linecap="butt"/>
<line x1="536.12" y1="278.4" x2="536.12" y2="283.4" stroke="#161616" stroke-width="2.2" stroke-linecap="butt"/>
<line x1="179.88" y1="504.4" x2="179.88" y2="509.4" stroke="#161616" stroke-width="2.2" stroke-linecap="butt"/>
<line x1="239.25" y1="504.4" x2="239.25" y2="513.9" stroke="#161616" stroke-width="2.2" stroke-linecap="butt"/>
<line x1="298.62" y1="504.4" x2="298.62" y2="509.4" stroke="#161616" stroke-width="2.2" stroke-linecap="butt"/>
<line x1="358" y1="504.4" x2="358" y2="513.9" stroke="#161616" stroke-width="2.2" stroke-linecap="butt"/>
<line x1="417.38" y1="504.4" x2="417.38" y2="509.4" stroke="#161616" stroke-width="2.2" stroke-linecap="butt"/>
<line x1="476.75" y1="504.4" x2="476.75" y2="513.9" stroke="#161616" stroke-width="2.2" stroke-linecap="butt"/>
<line x1="536.12" y1="504.4" x2="536.12" y2="509.4" stroke="#161616" stroke-width="2.2" stroke-linecap="butt"/>
<line x1="120.5" y1="730" x2="120.5" y2="740" stroke="#161616" stroke-width="2.2" stroke-linecap="butt"/>
<line x1="179.88" y1="730" x2="179.88" y2="735" stroke="#161616" stroke-width="2.2" stroke-linecap="butt"/>
<line x1="239.25" y1="730" x2="239.25" y2="740" stroke="#161616" stroke-width="2.2" stroke-linecap="butt"/>
<line x1="298.62" y1="730" x2="298.62" y2="735" stroke="#161616" stroke-width="2.2" stroke-linecap="butt"/>
<line x1="358" y1="730" x2="358" y2="740" stroke="#161616" stroke-width="2.2" stroke-linecap="butt"/>
<line x1="417.38" y1="730" x2="417.38" y2="735" stroke="#161616" stroke-width="2.2" stroke-linecap="butt"/>
<line x1="476.75" y1="730" x2="476.75" y2="740" stroke="#161616" stroke-width="2.2" stroke-linecap="butt"/>
<line x1="536.12" y1="730" x2="536.12" y2="735" stroke="#161616" stroke-width="2.2" stroke-linecap="butt"/>
<line x1="595.5" y1="730" x2="595.5" y2="740" stroke="#161616" stroke-width="2.2" stroke-linecap="butt"/>
<line x1="110" y1="259.7" x2="120.5" y2="259.7" stroke="#161616" stroke-width="2.4" stroke-linecap="butt"/>
<line x1="586" y1="259.7" x2="595.5" y2="259.7" stroke="#161616" stroke-width="2.2" stroke-linecap="butt"/>
<line x1="110" y1="165.65" x2="120.5" y2="165.65" stroke="#161616" stroke-width="2.4" stroke-linecap="butt"/>
<line x1="586" y1="165.65" x2="595.5" y2="165.65" stroke="#161616" stroke-width="2.2" stroke-linecap="butt"/>
<line x1="110" y1="71.6" x2="120.5" y2="71.6" stroke="#161616" stroke-width="2.4" stroke-linecap="butt"/>
<line x1="586" y1="71.6" x2="595.5" y2="71.6" stroke="#161616" stroke-width="2.2" stroke-linecap="butt"/>
<line x1="115" y1="212.67" x2="120.5" y2="212.67" stroke="#161616" stroke-width="2.2" stroke-linecap="butt"/>
<line x1="590.5" y1="212.67" x2="595.5" y2="212.67" stroke="#161616" stroke-width="2.2" stroke-linecap="butt"/>
<line x1="115" y1="118.62" x2="120.5" y2="118.62" stroke="#161616" stroke-width="2.2" stroke-linecap="butt"/>
<line x1="590.5" y1="118.62" x2="595.5" y2="118.62" stroke="#161616" stroke-width="2.2" stroke-linecap="butt"/>
<line x1="110" y1="491.8" x2="120.5" y2="491.8" stroke="#161616" stroke-width="2.4" stroke-linecap="butt"/>
<line x1="586" y1="491.8" x2="595.5" y2="491.8" stroke="#161616" stroke-width="2.2" stroke-linecap="butt"/>
<line x1="110" y1="430.6" x2="120.5" y2="430.6" stroke="#161616" stroke-width="2.4" stroke-linecap="butt"/>
<line x1="586" y1="430.6" x2="595.5" y2="430.6" stroke="#161616" stroke-width="2.2" stroke-linecap="butt"/>
<line x1="110" y1="369.4" x2="120.5" y2="369.4" stroke="#161616" stroke-width="2.4" stroke-linecap="butt"/>
<line x1="586" y1="369.4" x2="595.5" y2="369.4" stroke="#161616" stroke-width="2.2" stroke-linecap="butt"/>
<line x1="110" y1="308.2" x2="120.5" y2="308.2" stroke="#161616" stroke-width="2.4" stroke-linecap="butt"/>
<line x1="586" y1="308.2" x2="595.5" y2="308.2" stroke="#161616" stroke-width="2.2" stroke-linecap="butt"/>
<line x1="115" y1="461.2" x2="120.5" y2="461.2" stroke="#161616" stroke-width="2.2" stroke-linecap="butt"/>
<line x1="590.5" y1="461.2" x2="595.5" y2="461.2" stroke="#161616" stroke-width="2.2" stroke-linecap="butt"/>
<line x1="115" y1="400" x2="120.5" y2="400" stroke="#161616" stroke-width="2.2" stroke-linecap="butt"/>
<line x1="590.5" y1="400" x2="595.5" y2="400" stroke="#161616" stroke-width="2.2" stroke-linecap="butt"/>
<line x1="115" y1="338.8" x2="120.5" y2="338.8" stroke="#161616" stroke-width="2.2" stroke-linecap="butt"/>
<line x1="590.5" y1="338.8" x2="595.5" y2="338.8" stroke="#161616" stroke-width="2.2" stroke-linecap="butt"/>
<line x1="115" y1="277.6" x2="120.5" y2="277.6" stroke="#161616" stroke-width="2.2" stroke-linecap="butt"/>
<line x1="590.5" y1="277.6" x2="595.5" y2="277.6" stroke="#161616" stroke-width="2.2" stroke-linecap="butt"/>
<line x1="110" y1="715.8" x2="120.5" y2="715.8" stroke="#161616" stroke-width="2.4" stroke-linecap="butt"/>
<line x1="586" y1="715.8" x2="595.5" y2="715.8" stroke="#161616" stroke-width="2.2" stroke-linecap="butt"/>
<line x1="110" y1="574.6" x2="120.5" y2="574.6" stroke="#161616" stroke-width="2.4" stroke-linecap="butt"/>
<line x1="586" y1="574.6" x2="595.5" y2="574.6" stroke="#161616" stroke-width="2.2" stroke-linecap="butt"/>
<line x1="115" y1="645.2" x2="120.5" y2="645.2" stroke="#161616" stroke-width="2.2" stroke-linecap="butt"/>
<line x1="590.5" y1="645.2" x2="595.5" y2="645.2" stroke="#161616" stroke-width="2.2" stroke-linecap="butt"/>
<line x1="115" y1="504" x2="120.5" y2="504" stroke="#161616" stroke-width="2.2" stroke-linecap="butt"/>
<line x1="590.5" y1="504" x2="595.5" y2="504" stroke="#161616" stroke-width="2.2" stroke-linecap="butt"/>
<polyline points="120.5,740 120.5,53 595.5,53 595.5,740" fill="none" stroke="#161616" stroke-width="2.6" stroke-linejoin="round"/>
<line x1="115" y1="278.4" x2="596.7" y2="278.4" stroke="#161616" stroke-width="2.5" stroke-linecap="butt"/>
<line x1="115" y1="504.4" x2="596.7" y2="504.4" stroke="#161616" stroke-width="2.5" stroke-linecap="butt"/>
<line x1="119.3" y1="730" x2="596.7" y2="730" stroke="#161616" stroke-width="2.0" stroke-linecap="butt"/>
<line x1="841.58" y1="57.6" x2="841.58" y2="62.6" stroke="#161616" stroke-width="2.2" stroke-linecap="butt"/>
<line x1="900.95" y1="57.6" x2="900.95" y2="67.1" stroke="#161616" stroke-width="2.2" stroke-linecap="butt"/>
<line x1="960.33" y1="57.6" x2="960.33" y2="62.6" stroke="#161616" stroke-width="2.2" stroke-linecap="butt"/>
<line x1="1019.7" y1="57.6" x2="1019.7" y2="67.1" stroke="#161616" stroke-width="2.2" stroke-linecap="butt"/>
<line x1="1079.08" y1="57.6" x2="1079.08" y2="62.6" stroke="#161616" stroke-width="2.2" stroke-linecap="butt"/>
<line x1="1138.45" y1="57.6" x2="1138.45" y2="67.1" stroke="#161616" stroke-width="2.2" stroke-linecap="butt"/>
<line x1="1197.83" y1="57.6" x2="1197.83" y2="62.6" stroke="#161616" stroke-width="2.2" stroke-linecap="butt"/>
<line x1="841.58" y1="283.3" x2="841.58" y2="288.3" stroke="#161616" stroke-width="2.2" stroke-linecap="butt"/>
<line x1="900.95" y1="283.3" x2="900.95" y2="292.8" stroke="#161616" stroke-width="2.2" stroke-linecap="butt"/>
<line x1="960.33" y1="283.3" x2="960.33" y2="288.3" stroke="#161616" stroke-width="2.2" stroke-linecap="butt"/>
<line x1="1019.7" y1="283.3" x2="1019.7" y2="292.8" stroke="#161616" stroke-width="2.2" stroke-linecap="butt"/>
<line x1="1079.08" y1="283.3" x2="1079.08" y2="288.3" stroke="#161616" stroke-width="2.2" stroke-linecap="butt"/>
<line x1="1138.45" y1="283.3" x2="1138.45" y2="292.8" stroke="#161616" stroke-width="2.2" stroke-linecap="butt"/>
<line x1="1197.83" y1="283.3" x2="1197.83" y2="288.3" stroke="#161616" stroke-width="2.2" stroke-linecap="butt"/>
<line x1="841.58" y1="509.1" x2="841.58" y2="514.1" stroke="#161616" stroke-width="2.2" stroke-linecap="butt"/>
<line x1="900.95" y1="509.1" x2="900.95" y2="518.6" stroke="#161616" stroke-width="2.2" stroke-linecap="butt"/>
<line x1="960.33" y1="509.1" x2="960.33" y2="514.1" stroke="#161616" stroke-width="2.2" stroke-linecap="butt"/>
<line x1="1019.7" y1="509.1" x2="1019.7" y2="518.6" stroke="#161616" stroke-width="2.2" stroke-linecap="butt"/>
<line x1="1079.08" y1="509.1" x2="1079.08" y2="514.1" stroke="#161616" stroke-width="2.2" stroke-linecap="butt"/>
<line x1="1138.45" y1="509.1" x2="1138.45" y2="518.6" stroke="#161616" stroke-width="2.2" stroke-linecap="butt"/>
<line x1="1197.83" y1="509.1" x2="1197.83" y2="514.1" stroke="#161616" stroke-width="2.2" stroke-linecap="butt"/>
<line x1="782.2" y1="735.2" x2="782.2" y2="745.2" stroke="#161616" stroke-width="2.2" stroke-linecap="butt"/>
<line x1="841.58" y1="735.2" x2="841.58" y2="740.2" stroke="#161616" stroke-width="2.2" stroke-linecap="butt"/>
<line x1="900.95" y1="735.2" x2="900.95" y2="745.2" stroke="#161616" stroke-width="2.2" stroke-linecap="butt"/>
<line x1="960.33" y1="735.2" x2="960.33" y2="740.2" stroke="#161616" stroke-width="2.2" stroke-linecap="butt"/>
<line x1="1019.7" y1="735.2" x2="1019.7" y2="745.2" stroke="#161616" stroke-width="2.2" stroke-linecap="butt"/>
<line x1="1079.08" y1="735.2" x2="1079.08" y2="740.2" stroke="#161616" stroke-width="2.2" stroke-linecap="butt"/>
<line x1="1138.45" y1="735.2" x2="1138.45" y2="745.2" stroke="#161616" stroke-width="2.2" stroke-linecap="butt"/>
<line x1="1197.83" y1="735.2" x2="1197.83" y2="740.2" stroke="#161616" stroke-width="2.2" stroke-linecap="butt"/>
<line x1="1257.2" y1="735.2" x2="1257.2" y2="745.2" stroke="#161616" stroke-width="2.2" stroke-linecap="butt"/>
<line x1="771.7" y1="264.5" x2="782.2" y2="264.5" stroke="#161616" stroke-width="2.4" stroke-linecap="butt"/>
<line x1="1247.7" y1="264.5" x2="1257.2" y2="264.5" stroke="#161616" stroke-width="2.2" stroke-linecap="butt"/>
<line x1="771.7" y1="170.4" x2="782.2" y2="170.4" stroke="#161616" stroke-width="2.4" stroke-linecap="butt"/>
<line x1="1247.7" y1="170.4" x2="1257.2" y2="170.4" stroke="#161616" stroke-width="2.2" stroke-linecap="butt"/>
<line x1="771.7" y1="76.3" x2="782.2" y2="76.3" stroke="#161616" stroke-width="2.4" stroke-linecap="butt"/>
<line x1="1247.7" y1="76.3" x2="1257.2" y2="76.3" stroke="#161616" stroke-width="2.2" stroke-linecap="butt"/>
<line x1="776.7" y1="217.45" x2="782.2" y2="217.45" stroke="#161616" stroke-width="2.2" stroke-linecap="butt"/>
<line x1="1252.2" y1="217.45" x2="1257.2" y2="217.45" stroke="#161616" stroke-width="2.2" stroke-linecap="butt"/>
<line x1="776.7" y1="123.35" x2="782.2" y2="123.35" stroke="#161616" stroke-width="2.2" stroke-linecap="butt"/>
<line x1="1252.2" y1="123.35" x2="1257.2" y2="123.35" stroke="#161616" stroke-width="2.2" stroke-linecap="butt"/>
<line x1="771.7" y1="497.8" x2="782.2" y2="497.8" stroke="#161616" stroke-width="2.4" stroke-linecap="butt"/>
<line x1="1247.7" y1="497.8" x2="1257.2" y2="497.8" stroke="#161616" stroke-width="2.2" stroke-linecap="butt"/>
<line x1="771.7" y1="433.36" x2="782.2" y2="433.36" stroke="#161616" stroke-width="2.4" stroke-linecap="butt"/>
<line x1="1247.7" y1="433.36" x2="1257.2" y2="433.36" stroke="#161616" stroke-width="2.2" stroke-linecap="butt"/>
<line x1="771.7" y1="368.92" x2="782.2" y2="368.92" stroke="#161616" stroke-width="2.4" stroke-linecap="butt"/>
<line x1="1247.7" y1="368.92" x2="1257.2" y2="368.92" stroke="#161616" stroke-width="2.2" stroke-linecap="butt"/>
<line x1="771.7" y1="304.48" x2="782.2" y2="304.48" stroke="#161616" stroke-width="2.4" stroke-linecap="butt"/>
<line x1="1247.7" y1="304.48" x2="1257.2" y2="304.48" stroke="#161616" stroke-width="2.2" stroke-linecap="butt"/>
<line x1="776.7" y1="465.58" x2="782.2" y2="465.58" stroke="#161616" stroke-width="2.2" stroke-linecap="butt"/>
<line x1="1252.2" y1="465.58" x2="1257.2" y2="465.58" stroke="#161616" stroke-width="2.2" stroke-linecap="butt"/>
<line x1="776.7" y1="401.14" x2="782.2" y2="401.14" stroke="#161616" stroke-width="2.2" stroke-linecap="butt"/>
<line x1="1252.2" y1="401.14" x2="1257.2" y2="401.14" stroke="#161616" stroke-width="2.2" stroke-linecap="butt"/>
<line x1="776.7" y1="336.7" x2="782.2" y2="336.7" stroke="#161616" stroke-width="2.2" stroke-linecap="butt"/>
<line x1="1252.2" y1="336.7" x2="1257.2" y2="336.7" stroke="#161616" stroke-width="2.2" stroke-linecap="butt"/>
<line x1="771.7" y1="726" x2="782.2" y2="726" stroke="#161616" stroke-width="2.4" stroke-linecap="butt"/>
<line x1="1247.7" y1="726" x2="1257.2" y2="726" stroke="#161616" stroke-width="2.2" stroke-linecap="butt"/>
<line x1="771.7" y1="639.4" x2="782.2" y2="639.4" stroke="#161616" stroke-width="2.4" stroke-linecap="butt"/>
<line x1="1247.7" y1="639.4" x2="1257.2" y2="639.4" stroke="#161616" stroke-width="2.2" stroke-linecap="butt"/>
<line x1="771.7" y1="552.8" x2="782.2" y2="552.8" stroke="#161616" stroke-width="2.4" stroke-linecap="butt"/>
<line x1="1247.7" y1="552.8" x2="1257.2" y2="552.8" stroke="#161616" stroke-width="2.2" stroke-linecap="butt"/>
<line x1="776.7" y1="682.7" x2="782.2" y2="682.7" stroke="#161616" stroke-width="2.2" stroke-linecap="butt"/>
<line x1="1252.2" y1="682.7" x2="1257.2" y2="682.7" stroke="#161616" stroke-width="2.2" stroke-linecap="butt"/>
<line x1="776.7" y1="596.1" x2="782.2" y2="596.1" stroke="#161616" stroke-width="2.2" stroke-linecap="butt"/>
<line x1="1252.2" y1="596.1" x2="1257.2" y2="596.1" stroke="#161616" stroke-width="2.2" stroke-linecap="butt"/>
<polyline points="782.2,745.2 782.2,57.6 1257.2,57.6 1257.2,745.2" fill="none" stroke="#161616" stroke-width="2.6" stroke-linejoin="round"/>
<line x1="776.7" y1="283.3" x2="1258.4" y2="283.3" stroke="#161616" stroke-width="2.5" stroke-linecap="butt"/>
<line x1="776.7" y1="509.1" x2="1258.4" y2="509.1" stroke="#161616" stroke-width="2.5" stroke-linecap="butt"/>
<line x1="781" y1="735.2" x2="1258.4" y2="735.2" stroke="#161616" stroke-width="2.5" stroke-linecap="butt"/>
<text transform="translate(103.9,77.3) scale(0.9500,1)" x="0" y="0" font-size="22.11" text-anchor="end" fill="#1c1c1c">1,0</text>
<text transform="translate(103.9,171.35) scale(0.9500,1)" x="0" y="0" font-size="22.11" text-anchor="end" fill="#1c1c1c">0,5</text>
<text transform="translate(103.9,265.4) scale(0.9500,1)" x="0" y="0" font-size="22.11" text-anchor="end" fill="#1c1c1c">0,0</text>
<text transform="translate(103.9,313.9) scale(0.9500,1)" x="0" y="0" font-size="22.11" text-anchor="end" fill="#1c1c1c">1,5</text>
<text transform="translate(103.9,375.1) scale(0.9500,1)" x="0" y="0" font-size="22.11" text-anchor="end" fill="#1c1c1c">1,0</text>
<text transform="translate(103.9,436.3) scale(0.9500,1)" x="0" y="0" font-size="22.11" text-anchor="end" fill="#1c1c1c">0,5</text>
<text transform="translate(103.9,497.5) scale(0.9500,1)" x="0" y="0" font-size="22.11" text-anchor="end" fill="#1c1c1c">0,0</text>
<text transform="translate(103.9,580.3) scale(0.9500,1)" x="0" y="0" font-size="22.11" text-anchor="end" fill="#1c1c1c">0,5</text>
<text transform="translate(103.9,721.5) scale(0.9500,1)" x="0" y="0" font-size="22.11" text-anchor="end" fill="#1c1c1c">0,0</text>
<text transform="translate(765,82) scale(0.9500,1)" x="0" y="0" font-size="22.11" text-anchor="end" fill="#1c1c1c">1,0</text>
<text transform="translate(765,176.1) scale(0.9500,1)" x="0" y="0" font-size="22.11" text-anchor="end" fill="#1c1c1c">0,5</text>
<text transform="translate(765,270.2) scale(0.9500,1)" x="0" y="0" font-size="22.11" text-anchor="end" fill="#1c1c1c">0,0</text>
<text transform="translate(765,310.18) scale(0.9500,1)" x="0" y="0" font-size="22.11" text-anchor="end" fill="#1c1c1c">9</text>
<text transform="translate(765,374.62) scale(0.9500,1)" x="0" y="0" font-size="22.11" text-anchor="end" fill="#1c1c1c">6</text>
<text transform="translate(765,439.06) scale(0.9500,1)" x="0" y="0" font-size="22.11" text-anchor="end" fill="#1c1c1c">3</text>
<text transform="translate(765,503.5) scale(0.9500,1)" x="0" y="0" font-size="22.11" text-anchor="end" fill="#1c1c1c">0</text>
<text transform="translate(765,558.5) scale(0.9500,1)" x="0" y="0" font-size="22.11" text-anchor="end" fill="#1c1c1c">2</text>
<text transform="translate(765,645.1) scale(0.9500,1)" x="0" y="0" font-size="22.11" text-anchor="end" fill="#1c1c1c">1</text>
<text transform="translate(765,731.7) scale(0.9500,1)" x="0" y="0" font-size="22.11" text-anchor="end" fill="#1c1c1c">0</text>
<text transform="translate(120.5,764.5) scale(0.9500,1)" x="0" y="0" font-size="22.11" text-anchor="middle" fill="#1c1c1c">0</text>
<text transform="translate(239.25,764.5) scale(0.9500,1)" x="0" y="0" font-size="22.11" text-anchor="middle" fill="#1c1c1c">500</text>
<text transform="translate(358,764.5) scale(0.9500,1)" x="0" y="0" font-size="22.11" text-anchor="middle" fill="#1c1c1c">1000</text>
<text transform="translate(476.75,764.5) scale(0.9500,1)" x="0" y="0" font-size="22.11" text-anchor="middle" fill="#1c1c1c">1500</text>
<text transform="translate(595.5,764.5) scale(0.9500,1)" x="0" y="0" font-size="22.11" text-anchor="middle" fill="#1c1c1c">2000</text>
<text transform="translate(358,801.3) scale(0.9600,1)" x="0" y="0" font-size="23.44" text-anchor="middle" fill="#1c1c1c">t (s)</text>
<text transform="translate(782.2,768.2) scale(0.9500,1)" x="0" y="0" font-size="22.11" text-anchor="middle" fill="#1c1c1c">0</text>
<text transform="translate(900.95,768.2) scale(0.9500,1)" x="0" y="0" font-size="22.11" text-anchor="middle" fill="#1c1c1c">500</text>
<text transform="translate(1019.7,768.2) scale(0.9500,1)" x="0" y="0" font-size="22.11" text-anchor="middle" fill="#1c1c1c">1000</text>
<text transform="translate(1138.45,768.2) scale(0.9500,1)" x="0" y="0" font-size="22.11" text-anchor="middle" fill="#1c1c1c">1500</text>
<text transform="translate(1257.2,768.2) scale(0.9500,1)" x="0" y="0" font-size="22.11" text-anchor="middle" fill="#1c1c1c">2000</text>
<text transform="translate(1019.7,805.7) scale(0.9600,1)" x="0" y="0" font-size="23.44" text-anchor="middle" fill="#1c1c1c">t (s)</text>
<text transform="translate(53.8,165.4) rotate(-90) scale(0.9665,1)" x="0" y="0" font-size="23.5" text-anchor="middle" fill="#1c1c1c">E (V vs. RHE)</text>
<text transform="translate(53.2,409) rotate(-90) scale(1.0107,1)" x="0" y="0" font-size="23.5" text-anchor="middle" fill="#1c1c1c">d(Fe)/dt*S (ng cm<tspan font-size="13.5" dy="-12">-2</tspan><tspan dy="12"> s</tspan><tspan font-size="13.5" dy="-12">-1</tspan><tspan dy="12">)</tspan></text>
<text transform="translate(58.6,636) rotate(-90) scale(0.9848,1)" x="0" y="0" font-size="23.5" text-anchor="middle" fill="#1c1c1c">Fe<tspan font-size="14.5" dy="7.5">Diss</tspan><tspan dy="-7.5"> (µg cm</tspan><tspan font-size="13.5" dy="-12.2">-2</tspan><tspan dy="12.2">)</tspan></text>
<text transform="translate(724,177.6) rotate(-90) scale(0.9906,1)" x="0" y="0" font-size="23.5" text-anchor="middle" fill="#1c1c1c">E (V vs. RHE)</text>
<text transform="translate(722.8,411.6) rotate(-90) scale(0.9973,1)" x="0" y="0" font-size="23.5" text-anchor="middle" fill="#1c1c1c">d(Fe)/dt*S (ng cm<tspan font-size="13.5" dy="-12">-2</tspan><tspan dy="12"> s</tspan><tspan font-size="13.5" dy="-12">-1</tspan><tspan dy="12">)</tspan></text>
<text transform="translate(722.6,631.2) rotate(-90) scale(0.9906,1)" x="0" y="0" font-size="23.5" text-anchor="middle" fill="#1c1c1c">Fe<tspan font-size="14.5" dy="7.5">Diss</tspan><tspan dy="-7.5"> (µg cm</tspan><tspan font-size="13.5" dy="-12.2">-2</tspan><tspan dy="12.2">)</tspan></text>
</svg></body></html>
